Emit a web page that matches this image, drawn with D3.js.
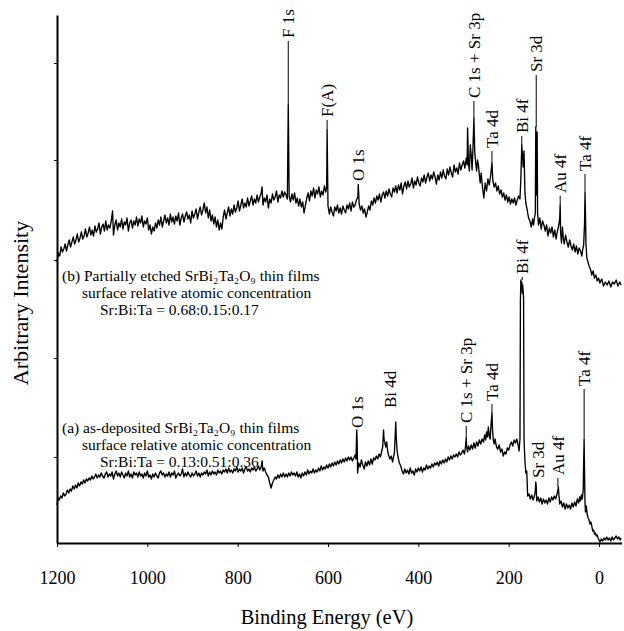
<!DOCTYPE html>
<html>
  <head>
    <meta charset="utf-8" />
    <script src="https://d3js.org/d3.v7.min.js"></script>
    <title>XPS survey spectra</title>
    <style>
      body { margin: 0; background: #fff; }
      text { font-family: "Liberation Serif", "Times New Roman", serif; fill: #000; }
      .spec { fill: none; stroke: #000; stroke-width: 1.35; stroke-linejoin: round; }
      .lead { stroke: #000; stroke-width: 1; }
    </style>
  </head>
  <body>
    <svg id="chart" width="624" height="631"></svg>

    <script>
    // [binding energy (eV), intensity (arb. units)]
    // (b) partially etched film
    var spectrumB = [
      [1200,281],[1197,290],[1194,287],[1191,296],[1188,291],[1185,294],[1182,299],[1179,292],[1176,298],[1173,303],
      [1170,296],[1167,301],[1164,306],[1161,299],[1158,303],[1155,309],[1152,301],[1149,305],[1146,311],[1143,304],
      [1140,307],[1137,314],[1134,306],[1131,310],[1128,316],[1125,308],[1122,313],[1119,307],[1116,317],[1113,311],
      [1110,314],[1107,320],[1104,309],[1101,316],[1098,319],[1095,312],[1092,322],[1089,313],[1086,318],[1083,315],
      [1080,322],[1077,332],[1075,308],[1072,318],[1069,323],[1066,313],[1063,320],[1060,316],[1057,324],[1054,314],
      [1051,321],[1048,318],[1045,325],[1042,312],[1039,320],[1036,323],[1033,315],[1030,322],[1027,318],[1024,326],
      [1021,317],[1018,324],[1015,320],[1012,327],[1009,316],[1006,322],[1003,319],[1000,325],[997,313],[994,318],
      [991,309],[988,316],[985,312],[982,320],[979,315],[976,323],[973,318],[970,326],[967,316],[964,322],
      [961,328],[958,320],[955,325],[952,318],[949,329],[946,321],[943,326],[940,319],[937,327],[934,322],
      [931,330],[928,318],[925,325],[922,329],[919,321],[916,327],[913,331],[910,324],[907,328],[904,320],
      [901,332],[898,325],[895,329],[892,334],[889,324],[886,331],[883,336],[880,328],[877,333],[874,340],
      [871,330],[868,336],[865,325],[862,333],[859,322],[856,328],[853,319],[850,326],[847,316],[844,323],
      [841,313],[838,320],[835,314],[832,326],[829,333],[826,324],[823,330],[820,336],[817,327],[814,334],
      [811,329],[808,338],[805,331],[802,335],[799,342],[796,332],[793,338],[790,344],[787,335],[784,340],
      [781,336],[778,345],[775,337],[772,342],[769,347],[766,338],[763,344],[760,340],[757,348],[754,341],
      [751,346],[748,350],[746,356],[744,338],[741,345],[738,341],[735,348],[732,335],[729,344],[726,340],
      [723,349],[720,343],[717,346],[714,352],[711,341],[708,348],[705,345],[702,352],[699,346],[696,351],
      [693,348],[690,344],[688,438],[686,347],[683,341],[680,349],[677,343],[674,350],[671,340],[668,345],
      [665,337],[662,344],[659,336],[656,341],[653,330],[650,338],[647,345],[644,350],[641,342],[638,352],
      [635,347],[632,355],[629,345],[626,353],[623,349],[620,356],[617,346],[614,352],[611,348],[608,357],
      [605,351],[603,356],[602,413],[600,337],[597,329],[594,336],[591,331],[588,327],[585,336],[582,332],
      [579,338],[576,330],[573,335],[570,329],[567,337],[564,333],[561,330],[558,338],[555,334],[552,340],
      [549,332],[546,341],[543,336],[540,338],[537,343],[534,346],[533,358],[531,339],[528,333],[525,337],
      [522,330],[519,334],[516,326],[513,331],[510,337],[507,333],[504,342],[501,338],[498,345],[495,340],
      [492,347],[489,343],[486,349],[483,341],[480,348],[477,351],[474,345],[471,352],[468,347],[465,354],
      [462,349],[459,346],[456,355],[453,351],[450,357],[447,350],[444,358],[441,353],[438,360],[435,349],
      [432,357],[429,361],[426,354],[423,362],[420,356],[417,359],[414,365],[411,355],[408,362],[405,358],
      [402,366],[399,360],[396,357],[393,365],[390,361],[387,368],[384,360],[381,366],[378,370],[375,362],
      [372,368],[369,364],[366,371],[363,366],[360,359],[357,368],[354,363],[351,371],[348,365],[345,373],
      [342,367],[339,364],[336,374],[333,368],[330,376],[327,370],[324,366],[321,378],[318,371],[315,375],
      [312,369],[309,380],[306,373],[303,378],[300,382],[297,375],[294,385],[292,378],[291,415],[289,380],
      [287,372],[285,398],[283,388],[281,373],[279,396],[277,425],[275,390],[273,380],[271,372],[269,383],
      [267,378],[265,368],[263,360],[261,370],[258,356],[255,345],[252,360],[249,352],[246,364],[243,358],
      [240,367],[237,380],[235,362],[232,356],[229,360],[226,352],[223,357],[220,349],[217,353],[214,346],
      [211,350],[208,343],[205,348],[202,341],[199,346],[196,339],[193,344],[190,340],[187,345],[184,338],
      [181,343],[178,347],[175,344],[173,365],[171,398],[169,385],[168,376],[166,392],[164,350],[162,340],
      [159,333],[156,325],[153,322],[150,316],[147,324],[145,318],[143,325],[141,330],[140,416],[139,348],
      [138,362],[137,411],[136,330],[134,318],[131,325],[128,314],[125,322],[122,318],[119,312],[116,318],
      [113,307],[110,315],[107,310],[104,316],[101,306],[98,313],[95,304],[92,312],[89,318],[87,325],
      [86,338],[85,310],[83,300],[81,316],[79,305],[77,299],[74,308],[71,301],[68,296],[65,303],
      [62,297],[59,293],[56,299],[53,291],[50,297],[47,289],[44,295],[41,292],[38,287],[36,294],
      [34,298],[32,320],[31,350],[30,330],[29,300],[27,285],[25,282],[22,277],[19,274],[16,268],
      [13,272],[10,265],[7,268],[4,262],[1,265],[-2,260],[-6,264],[-10,257],[-14,261],[-18,258],
      [-22,262],[-26,256],[-30,261],[-34,259],[-38,263],[-42,257],[-46,261],[-49,258]
    ];

    // (a) as-deposited film
    var spectrumA = [
      [1200,38],[1198,45],[1195,43],[1192,47],[1189,45],[1186,50],[1183,47],[1180,49],[1177,53],[1174,50],
      [1171,54],[1168,52],[1165,57],[1162,54],[1159,58],[1156,55],[1153,60],[1150,57],[1147,61],[1144,59],
      [1141,63],[1138,60],[1135,64],[1132,62],[1129,65],[1126,63],[1123,67],[1120,64],[1117,66],[1114,69],
      [1111,65],[1108,68],[1105,66],[1102,70],[1099,67],[1096,65],[1093,69],[1090,71],[1087,66],[1084,69],
      [1081,67],[1078,71],[1075,64],[1072,69],[1069,72],[1066,67],[1063,70],[1060,66],[1057,71],[1054,68],
      [1051,65],[1048,70],[1045,67],[1042,72],[1039,66],[1036,69],[1033,65],[1030,71],[1027,68],[1024,70],
      [1021,66],[1018,71],[1015,67],[1012,69],[1009,65],[1006,70],[1003,67],[1000,72],[997,66],[994,68],
      [991,64],[988,69],[985,66],[982,70],[979,67],[976,65],[973,70],[970,72],[967,68],[964,70],
      [961,66],[958,69],[955,67],[952,71],[949,66],[946,70],[943,68],[940,72],[937,65],[934,68],
      [931,70],[928,67],[925,69],[922,74],[919,66],[916,70],[913,67],[910,71],[907,68],[904,66],
      [901,70],[898,67],[895,69],[892,72],[889,67],[886,70],[883,66],[880,70],[877,68],[874,71],
      [871,69],[868,73],[865,67],[862,71],[859,68],[856,72],[853,69],[850,71],[847,68],[844,73],
      [841,70],[838,72],[835,69],[832,73],[829,71],[826,74],[823,70],[820,75],[817,71],[814,73],
      [811,70],[808,74],[805,72],[802,76],[799,71],[796,74],[793,72],[790,75],[787,70],[784,74],
      [781,76],[778,72],[775,74],[772,71],[769,75],[766,73],[763,76],[760,72],[757,74],[754,77],
      [751,73],[748,76],[746,82],[744,72],[741,75],[738,71],[735,68],[732,66],[729,60],[726,55],
      [723,60],[720,63],[717,66],[714,64],[711,68],[708,65],[705,69],[702,66],[699,70],[696,66],
      [693,69],[690,66],[687,70],[684,67],[681,71],[678,68],[675,70],[672,67],[669,71],[666,66],
      [663,69],[660,65],[657,70],[654,67],[651,71],[648,68],[645,73],[642,69],[639,72],[636,70],
      [633,74],[630,70],[627,73],[624,71],[621,75],[618,72],[615,77],[612,73],[609,76],[606,74],
      [603,78],[600,75],[597,79],[594,76],[591,80],[588,77],[585,81],[582,78],[579,82],[576,79],
      [573,83],[570,80],[567,84],[564,81],[561,85],[558,82],[555,86],[552,83],[549,86],[546,82],
      [543,85],[540,88],[538,84],[536.5,113],[535.5,104],[534.5,70],[532,80],[529,76],[526,83],[523,78],
      [520,74],[517,81],[514,77],[511,82],[508,78],[505,84],[502,79],[499,85],[496,83],[493,87],
      [490,84],[487,89],[484,86],[481,92],[479,96],[477,113],[476,104],[474,100],[472,96],[470,101],
      [468,92],[466,88],[463,84],[460,87],[457,81],[455,86],[453,90],[451,110],[450,121],[449,106],
      [447,92],[445,86],[442,80],[439,77],[436,72],[433,69],[430,74],[427,70],[424,73],[421,69],
      [418,75],[415,70],[412,72],[409,68],[406,74],[403,71],[400,75],[397,72],[394,76],[391,71],
      [388,75],[385,73],[382,78],[379,74],[376,77],[373,75],[370,79],[367,76],[364,80],[361,78],
      [358,81],[355,77],[352,82],[349,79],[346,83],[343,80],[340,84],[337,81],[334,86],[331,83],
      [328,87],[325,84],[322,88],[319,86],[316,89],[313,86],[310,91],[307,88],[304,90],[301,93],
      [298,89],[296,95],[294,105],[293,96],[291,91],[289,97],[286,93],[283,98],[280,94],[277,100],
      [274,95],[271,101],[268,97],[265,103],[262,99],[259,104],[256,101],[253,108],[251,103],[249,111],
      [247,106],[245,116],[243,107],[241,104],[239,119],[237,130],[236,115],[234,103],[232,99],[230,104],
      [227,96],[224,94],[221,98],[218,91],[215,94],[212,87],[209,91],[206,89],[203,95],[200,93],
      [197,98],[194,101],[191,97],[188,103],[185,100],[182,104],[179,98],[177,92],[175,104],[174,243],
      [173,263],[172,256],[171,261],[170,250],[169,258],[168,252],[167,245],[166,103],[164,82],[162,70],
      [160,72],[158,47],[155,49],[152,44],[149,48],[146,43],[143,47],[141,52],[140,61],[139,57],
      [138,42],[135,46],[132,41],[129,45],[126,39],[123,44],[120,40],[117,43],[114,39],[111,45],
      [108,41],[105,46],[102,43],[99,47],[96,44],[93,49],[91,53],[90,56],[89,49],[87,39],
      [84,42],[81,36],[78,40],[75,34],[72,39],[69,35],[66,38],[63,34],[60,40],[57,36],
      [54,41],[51,37],[48,44],[45,40],[43,46],[41,42],[39,48],[37,44],[35,53],[34,80],
      [33,103],[32,70],[31,40],[30,31],[28,37],[26,28],[24,25],[22,23],[20,19],[18,21],
      [16,17],[14,12],[12,13],[10,9],[8,10],[6,7],[4,8],[2,5],[0,3],[-2,1],
      [-5,4],[-8,2],[-11,5],[-14,3],[-17,6],[-20,3],[-23,5],[-26,2],[-29,6],[-32,3],
      [-35,5],[-38,7],[-41,4],[-44,6],[-47,3],[-49,5]
    ];

    // peak labels: text, energy, intensity at foot of label, intensity of peak top (null = no leader)
    var peakNamesB = ["F 1s", "F(A)", "O 1s", "C 1s + Sr 3p", "Ta 4d", "Bi 4f", "Sr 3d", "Au 4f", "Ta 4f"];
    var peakEnergyB = [688, 602, 533, 277, 237, 171, 139, 86, 31];
    var labelLevelB = [505, 426, 362, 445, 395, 410, 471, 350, 372];
    var peakTopB = [438, 413, 358, 425, 380, 398, 416, 338, 350];

    var peakNamesA = ["Bi 4f", "O 1s", "Bi 4d", "C 1s + Sr 3p", "Ta 4d", "Sr 3d", "Au 4f", "Ta 4f"];
    var peakEnergyA = [170, 536, 463, 294, 237, 135, 91, 33];
    var labelLevelA = [269, 115, 135, 120, 142, 65, 68, 157];
    var peakTopA = [263, 113, null, 105, 130, null, 56, 103];

    var notesB = ["(b) Partially etched SrBi₂Ta₂O₉ thin films",
                  "surface relative atomic concentration",
                  "Sr:Bi:Ta = 0.68:0.15:0.17"];
    var notesA = ["(a) as-deposited SrBi₂Ta₂O₉ thin films",
                  "surface relative atomic concentration",
                  "Sr:Bi:Ta = 0.13:0.51:0.36"];

    var xTicks = [1200, 1000, 800, 600, 400, 200, 0];
    var yTicks = [86, 185, 283, 383, 480];

    var svg = d3.select("#chart");

    var x = d3.scaleLinear().domain([1200, -50]).range([57, 621.6]);
    var y = d3.scaleLinear().domain([0, 528]).range([543, 15]);

    // axes
    var xAxis = d3.axisBottom(x).tickValues(xTicks).tickFormat(d3.format("d"))
        .tickSizeInner(4).tickSizeOuter(0).tickPadding(24);
    var gx = svg.append("g").attr("transform", "translate(0,543)").call(xAxis);
    gx.select(".domain").attr("stroke-width", 2);
    gx.selectAll("text").style("font-size", "18px").style("font-family", "Liberation Serif");

    var yAxis = d3.axisLeft(y).tickValues(yTicks).tickFormat("").tickSizeInner(3).tickSizeOuter(0);
    var gy = svg.append("g").attr("transform", "translate(57,0)").call(yAxis);
    gy.select(".domain").attr("stroke-width", 2);

    // spectra
    var line = d3.line().x(function(d){ return x(d[0]); }).y(function(d){ return y(d[1]); });

    svg.append("path").attr("class", "spec").attr("d", line(spectrumB));
    svg.append("path").attr("class", "spec").attr("d", line(spectrumA));

    function drawLabels(names, energies, levels, tops){
        names.forEach(function(name, i){
            var px = x(energies[i]);
            if (tops[i] !== null) {
                svg.append("line").attr("class", "lead")
                    .attr("x1", px).attr("x2", px)
                    .attr("y1", y(levels[i]) + 3).attr("y2", y(tops[i]));
            }
            svg.append("text")
                .attr("transform", "translate(" + (px + 6) + "," + y(levels[i]) + ") rotate(-90)")
                .style("font-size", "17px")
                .text(name);
        });
    }
    drawLabels(peakNamesB, peakEnergyB, labelLevelB, peakTopB);
    drawLabels(peakNamesA, peakEnergyA, labelLevelA, peakTopA);

    // sample descriptions
    var indent = [62, 82, 100];
    function note(lines, top){
        lines.forEach(function(s, i){
            svg.append("text").attr("x", indent[i]).attr("y", top + i * 17)
                .style("font-size", "15.5px").text(s);
        });
    }
    note(notesB, 281);
    note(notesA, 433);

    // axis titles
    svg.append("text").attr("x", 327).attr("y", 624).attr("text-anchor", "middle")
        .style("font-size", "20.5px").text("Binding Energy  (eV)");
    svg.append("text").attr("transform", "translate(28,303) rotate(-90)")
        .attr("text-anchor", "middle").style("font-size", "22px").text("Arbitrary Intensity");
    </script>
  </body>
</html>
